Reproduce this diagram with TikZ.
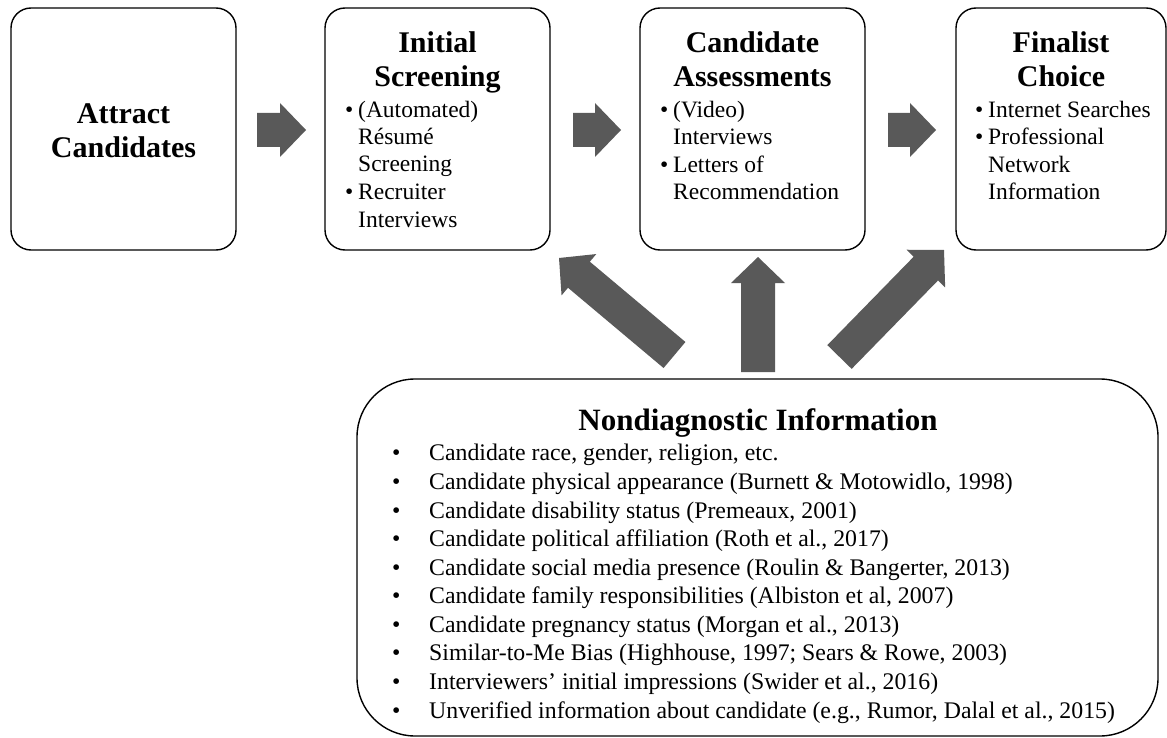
\documentclass[tikz,border=0pt]{standalone}
\usepackage{fontspec}
\setmainfont{Liberation Serif}
\usetikzlibrary{calc}
\definecolor{arrowgray}{RGB}{89,89,89}
\newcommand\bul{\makebox[13pt][l]{\textbullet}}
\newcommand\bulskip{\hspace*{13pt}}
\newcommand\lbul{\makebox[37pt][l]{\textbullet}}
\tikzset{
  stage/.style={draw=black, line width=1.4pt, rounded corners=20pt, minimum width=225pt, minimum height=242pt, inner sep=0pt},
  bigpanel/.style={draw=black, line width=1.4pt, rounded corners=58pt, minimum width=801pt, minimum height=357pt, inner sep=0pt},
  ttl/.style={font=\bfseries\fontsize{30}{34.5}\selectfont, align=center, inner sep=0pt, anchor=base},
  bodytxt/.style={font=\fontsize{23.5}{27.5}\selectfont, align=left, inner sep=0pt, anchor=base west},
  listtxt/.style={font=\fontsize{23.8}{28.56}\selectfont, align=left, inner sep=0pt, anchor=base west},
  blk/.style={fill=arrowgray, draw=none},
}
\newcommand\blockarrow[2]{%
  \path coordinate (ab) at ($(#2)!26pt!(#1)$);
  \fill[blk] ($(#1)!17pt!90:(#2)$) -- ($(ab)!17pt!90:(#2)$) -- ($(ab)!27pt!90:(#2)$) -- (#2)
    -- ($(ab)!27pt!-90:(#2)$) -- ($(ab)!17pt!-90:(#2)$) -- ($(#1)!17pt!-90:(#2)$) -- cycle;
}
\begin{document}
\begin{tikzpicture}[x=1pt, y=-1pt]
\useasboundingbox (0,0) rectangle (1167,738);

% stage boxes
\node[stage] (attract) at (123.5,129) {};
\node[stage] (screen) at (437.5,129) {};
\node[stage] (assess) at (752.5,129) {};
\node[stage, minimum width=210pt] (final) at (1061,129) {};
\node[bigpanel] (nondiag) at (757.5,557.5) {};

% texts (base anchor = baseline of the last line)
\node[ttl] (attractT) at (attract.center |- 0,158) {Attract\\Candidates};
\node[ttl] (screenT) at (screen.center |- 0,87) {Initial\\Screening};
\node[bodytxt] (screenB) at (345,227) {\bul(Automated)\\\bulskip Résumé\\\bulskip Screening\\\bul Recruiter\\\bulskip Interviews};
\node[ttl] (assessT) at (assess.center |- 0,87) {Candidate\\Assessments};
\node[bodytxt] (assessB) at (660,200) {\bul(Video)\\\bulskip Interviews\\\bul Letters of\\\bulskip Recommendation};
\node[ttl] (finalT) at (final.center |- 0,87) {Finalist\\Choice};
\node[bodytxt] (finalB) at (975,200) {\bul Internet Searches\\\bul Professional\\\bulskip Network\\\bulskip Information};

\node[ttl, font=\bfseries\fontsize{31}{34.5}\selectfont] (nondiagT) at (758,430) {Nondiagnostic Information};
\node[listtxt] (nondiagB) at (392,718) {%
\lbul Candidate race, gender, religion, etc.\\
\lbul Candidate physical appearance (Burnett \& Motowidlo, 1998)\\
\lbul Candidate disability status (Premeaux, 2001)\\
\lbul Candidate political affiliation (Roth et al., 2017)\\
\lbul Candidate social media presence (Roulin \& Bangerter, 2013)\\
\lbul Candidate family responsibilities (Albiston et al, 2007)\\
\lbul Candidate pregnancy status (Morgan et al., 2013)\\
\lbul Similar-to-Me Bias (Highhouse, 1997; Sears \& Rowe, 2003)\\
\lbul Interviewers’ initial impressions (Swider et al., 2016)\\
\lbul Unverified information about candidate (e.g., Rumor, Dalal et al., 2015)};

% arrow end points
\coordinate (r1t) at (257,130); \coordinate (r1p) at (306,130);
\coordinate (r2t) at (573,130); \coordinate (r2p) at (621,130);
\coordinate (r3t) at (888,130); \coordinate (r3p) at (936,130);
\coordinate (u1t) at (674.5,355); \coordinate (u1p) at (559,258);
\coordinate (u2t) at (758,372); \coordinate (u2p) at (758,257);
\coordinate (u3t) at (839.5,357); \coordinate (u3p) at (944,250);

\blockarrow{r1t}{r1p}
\blockarrow{r2t}{r2p}
\blockarrow{r3t}{r3p}
\blockarrow{u1t}{u1p}
\blockarrow{u2t}{u2p}
\blockarrow{u3t}{u3p}
\end{tikzpicture}
\end{document}
